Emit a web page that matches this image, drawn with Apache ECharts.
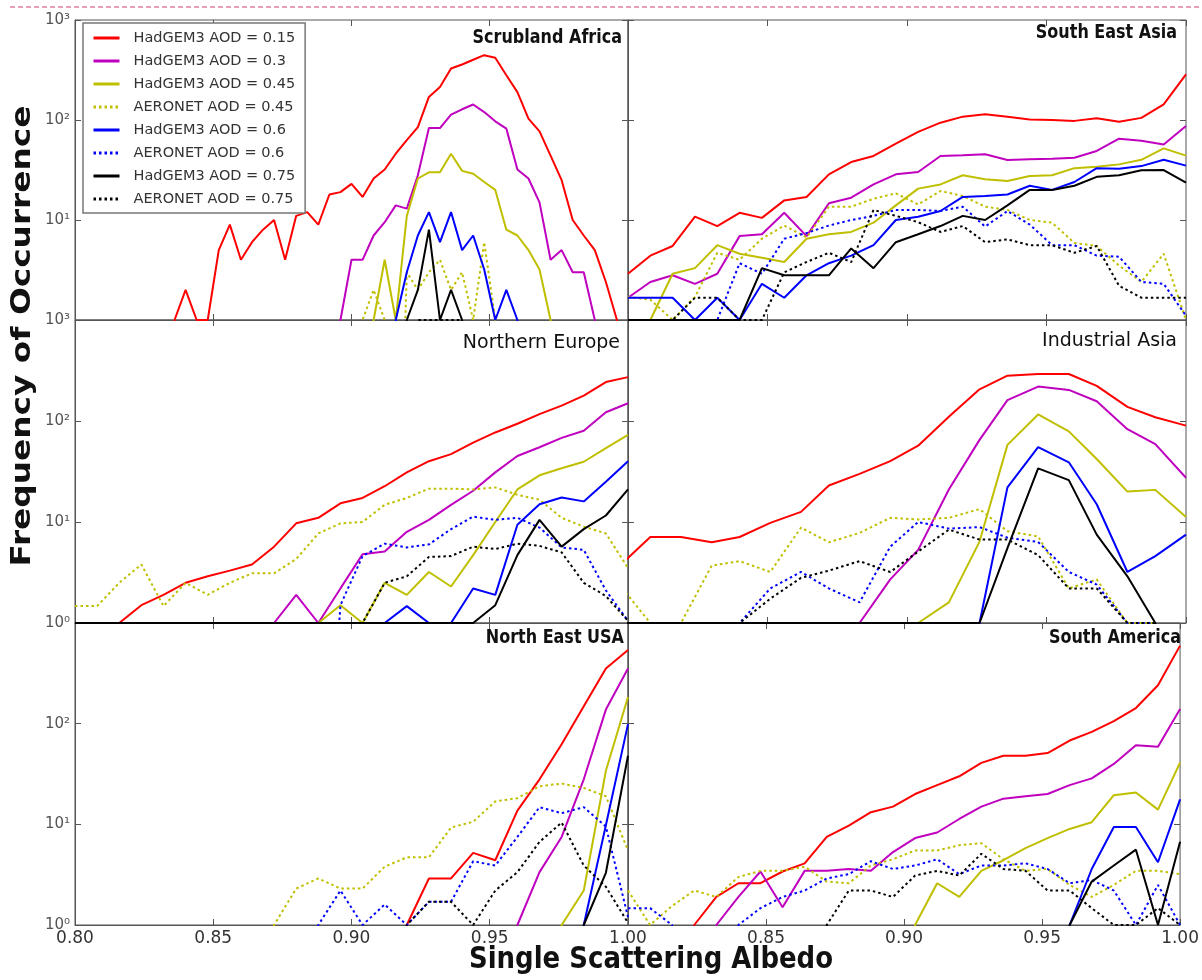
<!DOCTYPE html>
<html>
<head>
<meta charset="utf-8">
<script src="https://cdn.jsdelivr.net/npm/echarts@6/dist/echarts.min.js"></script>
<style>
  html, body { margin: 0; padding: 0; background: #fff; }
  #chart { width: 1202px; height: 980px; }
</style>
</head>
<body>
<div id="chart"></div>
<script>
// bin positions (single scattering albedo)
const xBins004 = [0.800, 0.804, 0.808, 0.812, 0.816, 0.820, 0.824, 0.828, 0.832, 0.836,
  0.840, 0.844, 0.848, 0.852, 0.856, 0.860, 0.864, 0.868, 0.872, 0.876,
  0.880, 0.884, 0.888, 0.892, 0.896, 0.900, 0.904, 0.908, 0.912, 0.916,
  0.920, 0.924, 0.928, 0.932, 0.936, 0.940, 0.944, 0.948, 0.952, 0.956,
  0.960, 0.964, 0.968, 0.972, 0.976, 0.980, 0.984, 0.988, 0.992, 0.996, 1.000];
const xBins008 = [0.800, 0.808, 0.816, 0.824, 0.832, 0.840, 0.848, 0.856, 0.864, 0.872,
  0.880, 0.888, 0.896, 0.904, 0.912, 0.920, 0.928, 0.936, 0.944, 0.952,
  0.960, 0.968, 0.976, 0.984, 0.992, 1.000];
const xBinsIndAsia = [0.798, 0.808, 0.819, 0.830, 0.840, 0.851, 0.862, 0.872, 0.883, 0.894,
  0.904, 0.915, 0.926, 0.936, 0.947, 0.958, 0.968, 0.979, 0.989, 1.000];

const regions = ['Scrubland Africa', 'South East Asia', 'Northern Europe', 'Industrial Asia', 'North East USA', 'South America'];
const seriesNames = ['HadGEM3 AOD = 0.15', 'HadGEM3 AOD = 0.3', 'HadGEM3 AOD = 0.45', 'AERONET AOD = 0.45',
  'HadGEM3 AOD = 0.6', 'AERONET AOD = 0.6', 'HadGEM3 AOD = 0.75', 'AERONET AOD = 0.75'];
const yTicks = ['10\u2070', '10\u00b9', '10\u00b2', '10\u00b3'];
const xTicks = ['0.80', '0.85', '0.90', '0.95', '1.00'];

// Scrubland Africa
const africaRed = [0,0,0,0,0,0,0,0,0,1, 2,1,1,5,9,4,6,8,10,4, 11,12,9,18,19,23,17,26,32,46,
  63,85,170,214,327,359,400,445,420,280, 190,103,77,44,25,10,7,5,2.4,1, 0];
const africaMagenta = [0,0,0,0,0,0,0,0,0,0, 0,0,0,0,0,0,0,0,0,0, 0,0,0,0,1,4,4,7,9.5,14,
  13,28,83,83,113,128,143,120,97,82, 32,26,15,4,5,3,3,1,0,0, 0];
const africaYellow = [0,0,0,0,0,0,0,0,0,0, 0,0,0,0,0,0,0,0,0,0, 0,0,0,0,0,0,0,1,4,1,
  11,26,30,30,46,31,29,24,20,8, 7,5,3.2,1,0,0,0,0,0,0, 0];
const africaYellowDot = [0,0,0,0,0,0,0,0,0,0, 0,0,0,0,0,0,0,0,0,0, 0,0,0,0,0,0,1,2,1,0,
  3,2,3,4,2,3,1,6,1,0, 0,0,0,0,0,0,0,0,0,0, 0];
const africaBlue = [0,0,0,0,0,0,0,0,0,0, 0,0,0,0,0,0,0,0,0,0, 0,0,0,0,0,0,0,0,0,1,
  3,7,12,6,12,5,7,3.2,1,2, 1,0,0,0,0,0,0,0,0,0, 0];
const africaBlueDot = [0,0,0,0,0,0,0,0,0,0, 0,0,0,0,0,0,0,0,0,0, 0,0,0,0,0,0,0,0,0,0,
  0,0,0,0,0,0,0,0,0,0, 0,0,0,0,0,0,0,0,0,0, 0];
const africaBlack = [0,0,0,0,0,0,0,0,0,0, 0,0,0,0,0,0,0,0,0,0, 0,0,0,0,0,0,0,0,0,0,
  1,2,8,1,2,1,0,0,0,0, 0,0,0,0,0,0,0,0,0,0, 0];
const africaBlackDot = [0,0,0,0,0,0,0,0,0,0, 0,0,0,0,0,0,0,0,0,0, 0,0,0,0,0,0,0,0,0,0,
  0,1,1,1,1,1,0,0,0,0, 0,0,0,0,0,0,0,0,0,0, 0];

// South East Asia
const seAsiaRed = [2.9,4.4,5.5,10.8,8.7,11.8,10.5,15.7,17,28.6, 38,43.7,58,76,94,108,114,108,101,100, 98,104,96,105,143,286];
const seAsiaMagenta = [1.67,2.4,2.8,2.3,2.9,6.9,7.2,11.8,6.9,14.7, 16.7,22.7,28.6,30.2,43.7,44.4,45.5,39.8,40.4,41, 42,49,65,62,57,87];
const seAsiaYellow = [0,1,2.9,3.3,5.6,4.6,4.2,3.8,6.5,7.2, 7.6,9.4,14,20.6,22.7,28,25.5,24.5,27.5,28, 33,34,36,40,52,44];
const seAsiaYellowDot = [1.7,1.6,1,1.7,4.7,4,6.5,8.8,6.7,13.6, 13.6,16.3,18.5,14.3,19.5,17.4,13.6,12.6,10,9.4, 5.9,5.5,3.5,2.4,4.6,1];
const seAsiaBlue = [1.67,1.67,1.67,1,1.67,1,2.3,1.67,2.8,3.7, 4.4,5.6,10,10.8,12.3,17,17.4,18,22,20, 24,33,32.5,34.6,40,35];
const seAsiaBlueDot = [0,0,0,0,1,3.7,2.9,6.5,7.4,8.8, 10,11,12.6,12.6,12.3,13.6,8.6,12.3,9,5.6, 5.6,4.4,4.3,2.4,2.3,1.1];
const seAsiaBlack = [1,1,1,1,1,1,3.3,2.8,2.8,2.8, 5.2,3.3,6,7.2,8.7,11,10,14,20,20, 22,27,28,31.5,31.6,23.6];
const seAsiaBlackDot = [0,1,1,1.67,1.67,1,1,3,3.8,4.7, 3.8,12.6,11,9.5,7.6,8.7,6,6.4,5.6,5.6, 4.7,5.5,2.2,1.67,1.67,1.67];

// Northern Europe
const nEuropeRed = [0,0,1,1.5,1.9,2.5,2.9,3.3,3.8,5.7, 9.7,11,15.3,17.3,22.6,31,40,47,61,77, 94,117,142,178,243,272];
const nEuropeMagenta = [0,0,0,0,0,0,0,0,0,1, 1.9,1,2.2,4.8,5.1,8,10.5,14.8,20.4,31, 45,55,68,80,122,150];
const nEuropeYellow = [0,0,0,0,0,0,0,0,0,0, 0,1,1.5,1,2.5,1.9,3.2,2.3,4.7,10, 21,29,34,39.5,54,73];
const nEuropeYellowDot = [1.47,1.47,2.5,3.8,1.47,2.5,1.9,2.5,3.1,3.1, 4.3,7.7,9.7,10,14.8,17.3,21.4,21.4,21,22, 18.6,16.6,11,9,7.7,3.5];
const nEuropeBlue = [0,0,0,0,0,0,0,0,0,0, 0,0,0,0,1,1.47,1,1,2.2,1.9, 9.4,15,17.5,16,25,40];
const nEuropeBlueDot = [0,0,0,0,0,0,0,0,0,0, 0,0,1.5,4.6,6.1,5.6,6,8.5,11.3,10.5, 11,8.8,5.6,5.3,2.1,1.05];
const nEuropeBlack = [1,1,1,1,1,1,1,1,1,1, 1,1,1,1,1,1,1,1,1,1.5, 4.7,10.5,5.7,8.5,11.6,21];
const nEuropeBlackDot = [0,0,0,0,0,0,0,0,0,0, 0,0,0,1,2.5,2.9,4.5,4.6,5.7,5.4, 6.1,5.8,5,2.5,1.85,1.05];

// Industrial Asia
const indAsiaRed = [3.9,7.1,7.1,6.3,7.1,9.8,12.6,23,30,40, 57,110,206,281,292,292,223,138,109,90];
const indAsiaMagenta = [0,0,0,0,0,0,0,0,1,2.7, 5.3,21,65,161,219,203,157,83,59,27.4];
const indAsiaYellow = [0,0,0,0,0,0,0,0,0,0, 1,1.6,6.4,58,116,79,42,20,20.8,11.2];
const indAsiaYellowDot = [2.2,1,1,3.7,4.1,3.2,8.8,6.3,7.8,11, 10.6,11,13.4,8.1,7.2,2.2,2.7,1,1,0];
const indAsiaBlue = [0,0,0,0,0,0,0,0,0,0, 0,0,1,22,55,39,15,3.2,4.6,7.5];
const indAsiaBlueDot = [0,0,0,0,1,2.2,3.2,2.2,1.6,5.7, 10,8.6,8.9,7,6.35,3.2,2.4,1,1,0];
const indAsiaBlack = [1,1,1,1,1,1,1,1,1,1, 1,1,1,5.5,34,26,7.5,2.9,1,0];
const indAsiaBlackDot = [0,0,0,0,1,1.74,2.8,3.3,4.1,3.2, 5.1,8.4,6.7,6.7,4.7,2.2,2.2,1,1,0];

// North East USA
const neUsaRed = [0,0,0,0,0,0,0,0,0,0, 0,0,0,0,0,1,2.9,2.9,5.2,4.4, 13.7,28,62.5,149,353,540];
const neUsaMagenta = [0,0,0,0,0,0,0,0,0,0, 0,0,0,0,0,0,0,0,0,0, 1,3.35,7.5,28,138,353];
const neUsaYellow = [0,0,0,0,0,0,0,0,0,0, 0,0,0,0,0,0,0,0,0,0, 0,0,1,2.2,34,184];
const neUsaYellowDot = [0,0,0,0,0,0,0,0,0,1, 2.3,2.9,2.3,2.3,3.8,4.7,4.7,9.3,10.6,16.9, 18.2,23.9,25.4,23,19,5.5];
const neUsaBlue = [0,0,0,0,0,0,0,0,0,0, 0,0,0,0,0,0,0,0,0,0, 0,0,0,1,9.8,99];
const neUsaBlueDot = [0,0,0,0,0,0,0,0,0,0, 0,1,2.2,1,1.6,1,1.7,1.7,4.3,3.9, 7.5,14.8,12.9,14.8,9.5,1.2];
const neUsaBlack = [0,0,0,0,0,0,0,0,0,0, 0,0,0,0,0,0,0,0,0,0, 0,0,0,1,3.3,48];
const neUsaBlackDot = [0,0,0,0,0,0,0,0,0,0, 0,0,0,0,0,1,1.7,1.7,1,2.2, 3.35,6.7,10.4,3.9,2.4,1.05];

// South America
const sAmericaRed = [0,0,0,1,1.9,2.6,2.6,3.4,4.1,7.5, 9.7,13.2,15,20,24.5,30,40.8,48,48,51, 68,83,106,143,241,596];
const sAmericaMagenta = [0,0,0,0,1,1.9,3.4,1.5,3.45,3.45, 3.6,3.45,5.3,7.3,8.3,11.3,15,18,19,20, 24.5,28.6,39.8,61,59,140];
const sAmericaYellow = [0,0,0,0,0,0,0,0,0,0, 0,0,0,1,2.6,1.9,3.45,4.4,5.8,7.3, 9,10.5,19.5,20.7,14,41];
const sAmericaYellowDot = [2.2,1,1.55,2.2,1.9,3,3.45,3.45,3.8,2.7, 2.6,3.9,4.5,5.5,5.5,6.2,6.5,4.5,3.45,3.6, 2.5,1.9,2.5,3.45,3.45,3.2];
const sAmericaBlue = [0,0,0,0,0,0,0,0,0,0, 0,0,0,0,0,0,0,0,0,0, 1,3.6,9.4,9.4,4.2,17.7];
const sAmericaBlueDot = [1.47,1.47,1,0,0,1,1.47,1.9,2.2,2.9, 3.2,4.3,3.6,3.9,4.5,3.2,3.9,3.9,4.1,3.6, 2.6,2.8,2.2,1,2.5,1];
const sAmericaBlack = [0,0,0,0,0,0,0,0,0,0, 0,0,0,0,0,0,0,0,0,0, 1,2.7,3.9,5.6,1,6.7];
const sAmericaBlackDot = [0,0,0,0,0,0,0,0,0,1, 2.2,2.2,1.9,3.1,3.45,3.1,5.1,3.6,3.45,2.2, 2.2,1.47,1,1,1.47,1];

const panelX = [xBins004, xBins008, xBins008, xBinsIndAsia, xBins008, xBins008];
const panelY = [
  [africaRed, africaMagenta, africaYellow, africaYellowDot, africaBlue, africaBlueDot, africaBlack, africaBlackDot],
  [seAsiaRed, seAsiaMagenta, seAsiaYellow, seAsiaYellowDot, seAsiaBlue, seAsiaBlueDot, seAsiaBlack, seAsiaBlackDot],
  [nEuropeRed, nEuropeMagenta, nEuropeYellow, nEuropeYellowDot, nEuropeBlue, nEuropeBlueDot, nEuropeBlack, nEuropeBlackDot],
  [indAsiaRed, indAsiaMagenta, indAsiaYellow, indAsiaYellowDot, indAsiaBlue, indAsiaBlueDot, indAsiaBlack, indAsiaBlackDot],
  [neUsaRed, neUsaMagenta, neUsaYellow, neUsaYellowDot, neUsaBlue, neUsaBlueDot, neUsaBlack, neUsaBlackDot],
  [sAmericaRed, sAmericaMagenta, sAmericaYellow, sAmericaYellowDot, sAmericaBlue, sAmericaBlueDot, sAmericaBlack, sAmericaBlackDot]
];

// styles
const colors = ['#ff0000', '#bf00bf', '#bfbf00', '#bfbf00', '#0000ff', '#0000ff', '#000000', '#000000'];
const dotted = [false, false, false, true, false, true, false, true];
const FLOOR = 1e-3; // empty bins go far below 10^0, like matplotlib's clipped log

const boxes = [
  { left: 75, top: 20, width: 553, height: 300 },
  { left: 628, top: 20, width: 558, height: 300 },
  { left: 75, top: 320, width: 553, height: 303 },
  { left: 628, top: 320, width: 558, height: 303 },
  { left: 75, top: 623, width: 553, height: 302 },
  { left: 628, top: 623, width: 558, height: 302 }
];
const titleY = [38, 33, 343, 341, 638, 638];
const titleRight = [622, 1177, 620, 1177, 624, 1181];
const titleBold = [true, true, false, false, true, true];

const chart = echarts.init(document.getElementById('chart'), null, { renderer: 'canvas' });

const tickStyle = { show: true, inside: true, length: 6, lineStyle: { color: '#555' } };
const grid = [], xAxis = [], yAxis = [], series = [], graphic = [];
boxes.forEach((b, p) => {
  const row = Math.floor(p / 2), col = p % 2;
  grid.push({ left: b.left, top: b.top, width: b.width, height: b.height,
    show: true, borderColor: '#555', borderWidth: 1, backgroundColor: 'transparent' });
  xAxis[p] = {
    type: 'value', gridIndex: p, min: 0.8, max: 1.0, interval: 0.05, position: 'bottom',
    axisLine: { show: true, onZero: false, lineStyle: { color: '#555', width: 1 } },
    axisTick: tickStyle,
    splitLine: { show: false },
    axisLabel: {
      show: row === 2, margin: 5, color: '#333', fontSize: 17, fontFamily: 'DejaVu Sans',
      formatter: function (v) {
        const i = Math.round((v - 0.8) / 0.05);
        if (col === 1 && i === 0) return '';
        return xTicks[i];
      }
    }
  };
  // matching ticks along the top spine
  xAxis[p + 6] = {
    type: 'value', gridIndex: p, min: 0.8, max: 1.0, interval: 0.05, position: 'top',
    axisLine: { show: false }, axisTick: tickStyle, axisLabel: { show: false }, splitLine: { show: false }
  };
  yAxis[p] = {
    type: 'log', logBase: 10, gridIndex: p, min: 1, max: 1000, position: 'left',
    axisLine: { show: true, lineStyle: { color: '#555', width: 1 } },
    axisTick: tickStyle,
    splitLine: { show: false },
    axisLabel: {
      show: col === 0, margin: 5, color: '#555', fontSize: 15, fontFamily: 'DejaVu Sans',
      formatter: function (v) {
        const e = Math.round(Math.log10(v));
        if (row === 0 && e === 0) return '';
        if (row === 2 && e === 3) return '';
        return yTicks[e];
      }
    }
  };
  // matching ticks along the right spine
  yAxis[p + 6] = {
    type: 'log', logBase: 10, gridIndex: p, min: 1, max: 1000, position: 'right',
    axisLine: { show: false }, axisTick: tickStyle, axisLabel: { show: false }, splitLine: { show: false }
  };
  panelY[p].forEach((ys, i) => {
    series.push({
      type: 'line', name: seriesNames[i], xAxisIndex: p, yAxisIndex: p,
      data: panelX[p].map((x, k) => [x, ys[k] > 0 ? ys[k] : FLOOR]),
      symbol: 'none', clip: true, animation: false, z: 2 + i * 0.01,
      itemStyle: { color: colors[i] },
      lineStyle: { color: colors[i], width: 2, type: dotted[i] ? [2.5, 3] : 'solid' }
    });
  });
  graphic.push({
    type: 'text', x: titleRight[p], y: titleY[p], z: 100,
    scaleY: titleBold[p] ? 1.2 : 1,
    style: {
      text: regions[p], fill: '#111',
      font: titleBold[p] ? 'bold 16px "DejaVu Sans"' : '19px "DejaVu Sans"',
      textAlign: 'right', textVerticalAlign: 'middle', align: 'right', verticalAlign: 'middle'
    }
  });
});

// axis titles and the dashed rule at the top of the page
graphic.push({
  type: 'text', x: 23, y: 336, rotation: Math.PI / 2, scaleX: 1.26, z: 100,
  style: { text: 'Frequency of Occurrence', fill: '#111', font: 'bold 26px "DejaVu Sans"',
    textAlign: 'center', textVerticalAlign: 'middle', align: 'center', verticalAlign: 'middle' }
});
graphic.push({
  type: 'text', x: 651, y: 960, scaleY: 1.15, z: 100,
  style: { text: 'Single Scattering Albedo', fill: '#111', font: 'bold 26px "DejaVu Sans"',
    textAlign: 'center', textVerticalAlign: 'middle', align: 'center', verticalAlign: 'middle' }
});
graphic.push({
  type: 'line', z: 100,
  shape: { x1: 10, y1: 7, x2: 1202, y2: 7 },
  style: { stroke: '#d0406a', lineWidth: 1, lineDash: [5, 3] }
});

const option = {
  backgroundColor: '#fff',
  animation: false,
  legend: {
    data: seriesNames, orient: 'vertical', left: 83, top: 23,
    selectedMode: false,
    backgroundColor: '#fff', borderColor: '#777', borderWidth: 1.5, borderRadius: 0,
    padding: [7, 10, 6, 9],
    itemWidth: 26, itemHeight: 14, itemGap: 7,
    itemStyle: { opacity: 0 },
    lineStyle: { width: 3 },
    textStyle: { fontSize: 14.5, lineHeight: 16, color: '#333', fontFamily: 'DejaVu Sans', padding: [0, 0, 0, 9] }
  },
  grid: grid,
  xAxis: xAxis,
  yAxis: yAxis,
  series: series,
  graphic: graphic
};
chart.setOption(option);
</script>
</body>
</html>
